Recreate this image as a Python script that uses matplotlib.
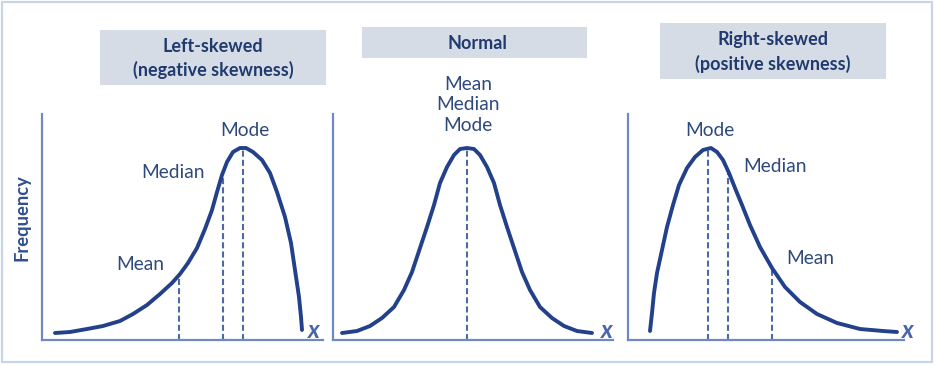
import matplotlib.pyplot as plt
from matplotlib.patches import Rectangle

plt.rcParams['font.family'] = ['Lato', 'DejaVu Sans']

W, H = 936, 365

# curve points: x position along the axis, frequency height
left_x = [13, 28, 45, 61, 78, 91, 105, 118, 130, 138, 146, 155, 163, 170, 175, 180, 185,
          191, 198, 204, 211, 220, 228, 235, 243, 249, 253, 257, 259, 260]
left_f = [7, 8, 11, 14, 19, 26, 35, 46, 57, 66, 77, 92, 111, 130, 148, 165, 178,
          188, 192, 192, 188, 180, 167, 148, 123, 97, 70, 43, 23, 10]
left_marks = [137, 181, 201]          # mean, median, mode
left_marks_f = [65, 166, 192]

normal_x = [9, 24, 37, 49, 61, 71, 79, 87, 94, 101, 107, 114, 121, 127, 134,
            141, 147, 154, 161, 167, 174, 181, 189, 197, 207, 219, 231, 244, 259]
normal_f = [7, 9, 14, 22, 33, 50, 68, 92, 113, 135, 157, 173, 185, 191, 192,
            191, 185, 173, 157, 135, 113, 92, 68, 50, 33, 22, 14, 9, 7]
normal_marks = [134]
normal_marks_f = [192]

right_x = [22, 24, 26, 29, 34, 39, 45, 51, 59, 67, 75, 83, 89, 95, 101, 107, 114,
           122, 132, 144, 157, 172, 189, 209, 232, 255, 269]
right_f = [9, 27, 47, 67, 90, 113, 135, 155, 172, 183, 190, 192, 188, 180, 167, 152, 135,
           115, 93, 72, 53, 38, 26, 17, 11, 9, 8]
right_marks = [80, 100, 144]          # mode, median, mean
right_marks_f = [192, 167, 71]

titles = ['Left-skewed\n(negative skewness)', 'Normal', 'Right-skewed\n(positive skewness)']

curve_c = '#23408a'
dash_c = '#4d69a6'
axis_c = '#7089c0'
title_c = '#1f3a6e'
label_c = '#2e4a7c'
box_c = '#d6dce5'


def fx(px):
    return px / W


def fy(py):
    return 1 - py / H


fig = plt.figure(figsize=(W / 100, H / 100), dpi=100)

# outer frame
fig.add_artist(Rectangle((fx(1.5), fy(361.5)), fx(930), 360 / H, transform=fig.transFigure,
                         fill=False, edgecolor='#c8d4ea', lw=1.6))

panels = [
    (42, 281, left_x, left_f, left_marks, left_marks_f),
    (333, 280, normal_x, normal_f, normal_marks, normal_marks_f),
    (628, 276, right_x, right_f, right_marks, right_marks_f),
]

for left, width, xs, fs, mx, mf in panels:
    ax = fig.add_axes([fx(left), fy(340), fx(width), 226 / H])
    ax.set_xlim(0, width)
    ax.set_ylim(0, 226)
    ax.patch.set_alpha(0)
    for s in ['top', 'right']:
        ax.spines[s].set_visible(False)
    for s in ['left', 'bottom']:
        ax.spines[s].set_color(axis_c)
        ax.spines[s].set_linewidth(1.6)
    ax.set_xticks([])
    ax.set_yticks([])
    for m, f in zip(mx, mf):
        ax.plot([m, m], [0, f], color=dash_c, lw=1.5, dashes=(2.9, 1.5), clip_on=False)
    ax.plot(xs, fs, color=curve_c, lw=2.8, solid_capstyle='round',
            solid_joinstyle='round', clip_on=False)

# title boxes
boxes = [(100, 30, 226, 55, 213), (362, 27, 225, 31, 477), (660, 23, 226, 56, 773)]
for (bx, by, bw, bh, cx), t in zip(boxes, titles):
    fig.add_artist(Rectangle((fx(bx), fy(by + bh)), fx(bw), bh / H, transform=fig.transFigure,
                             facecolor=box_c, edgecolor='none'))
    fig.text(fx(cx), fy(by + bh / 2 + 1), t, ha='center', va='center', fontsize=13,
             fontweight='bold', color=title_c, linespacing=1.45)

# curve labels
labels = [('Mode', 245, 131), ('Median', 173, 173), ('Mean', 140, 265),
          ('Mean\nMedian\nMode', 468, 105),
          ('Mode', 710, 131), ('Median', 775, 166), ('Mean', 810, 259)]
for t, px, py in labels:
    fig.text(fx(px), fy(py), t, ha='center', va='center', fontsize=13.8, color=label_c,
             linespacing=1.27)

fig.text(fx(22), fy(218), 'Frequency', rotation=90, ha='center', va='center',
         fontsize=13.2, fontweight='bold', color='#2f4f8e')

for px in [314, 607, 908]:
    fig.text(fx(px), fy(331), 'x', ha='center', va='center', fontsize=17.5,
             fontweight='bold', fontstyle='italic', color='#4a66aa')

fig.savefig('out.png', dpi=100)
